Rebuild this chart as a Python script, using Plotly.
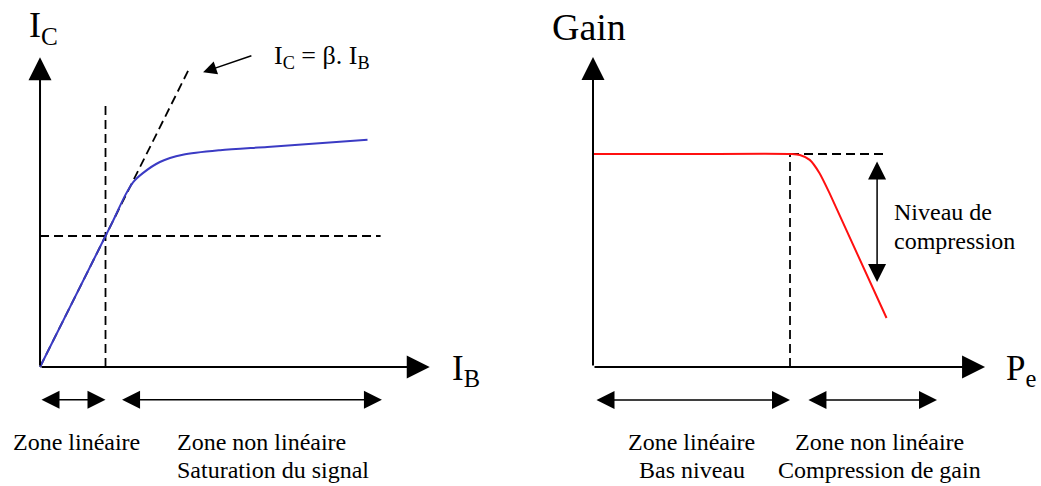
import plotly.graph_objects as go

# ---------------- data (diagram units) ----------------
# Left panel: collector current vs base current (beta = 2)
ib_curve = [0, 1.1, 1.3, 1.42, 1.57, 1.83, 2.18, 2.75, 3.47, 5.0]
ic_curve = [0, 2.2, 2.62, 2.82, 2.96, 3.13, 3.24, 3.31, 3.36, 3.47]
beta = 2.0
ib_beta = [0, 2.26]
ib_limit = 1.0          # end of linear zone
ic_limit = 2.0          # horizontal reference level
ib_dash_end = 5.2
ic_vdash_top = 4.0
ib_axis_max = 5.95
ic_axis_max = 4.73
left_zone_lin = [0, 1.0]
left_zone_nonlin = [1.23, 5.22]
left_zone_y = -0.5

# Right panel: gain vs input power
pe_curve = [0, 5, 10.1, 10.5, 11.0, 11.5, 12.0, 14.9]
g_curve = [20, 20, 20, 19.9, 19.45, 18.2, 16.35, 4.6]
pe_knee = 10
g_lin = 20
pe_hdash_end = 14.82
pe_axis_max = 19.9
g_axis_max = 29.1
comp_arrow_pe = 14.42
comp_arrow_g = [19.44, 7.98]
right_zone_lin = [0.1, 10.0]
right_zone_nonlin = [10.86, 17.46]
right_zone_y = -3.1

FONT = "Liberation Serif"
BLUE = "#3B3BC4"
RED = "#FF1010"
DASH = "9px,5px"

fig = go.Figure()

# ---------------- left traces ----------------
fig.add_trace(go.Scatter(x=ib_beta, y=[beta * v for v in ib_beta], mode="lines",
                         line=dict(color="black", width=1.8, dash=DASH),
                         xaxis="x", yaxis="y", hoverinfo="skip"))
fig.add_trace(go.Scatter(x=[ib_limit, ib_limit], y=[0, ic_vdash_top], mode="lines",
                         line=dict(color="black", width=1.8, dash=DASH),
                         xaxis="x", yaxis="y", hoverinfo="skip"))
fig.add_trace(go.Scatter(x=[0, ib_dash_end], y=[ic_limit, ic_limit], mode="lines",
                         line=dict(color="black", width=1.8, dash=DASH),
                         xaxis="x", yaxis="y", hoverinfo="skip"))
fig.add_trace(go.Scatter(x=ib_curve, y=ic_curve, mode="lines",
                         line=dict(color=BLUE, width=2, shape="spline", smoothing=0.8),
                         xaxis="x", yaxis="y", hoverinfo="skip"))

# ---------------- right traces ----------------
fig.add_trace(go.Scatter(x=[pe_knee, pe_knee], y=[0, g_lin], mode="lines",
                         line=dict(color="black", width=1.8, dash=DASH),
                         xaxis="x2", yaxis="y2", hoverinfo="skip"))
fig.add_trace(go.Scatter(x=[pe_knee, pe_hdash_end], y=[g_lin, g_lin], mode="lines",
                         line=dict(color="black", width=1.8, dash=DASH),
                         xaxis="x2", yaxis="y2", hoverinfo="skip"))
fig.add_trace(go.Scatter(x=pe_curve, y=g_curve, mode="lines",
                         line=dict(color=RED, width=2, shape="spline", smoothing=0.6),
                         xaxis="x2", yaxis="y2", hoverinfo="skip"))

ann = []


def arrow(xr, yr, x, y, ax, ay, width, size, both=False):
    d = dict(xref=xr, yref=yr, axref=xr, ayref=yr, x=x, y=y, ax=ax, ay=ay,
             text="", showarrow=True, arrowhead=2, arrowsize=size, arrowwidth=width,
             arrowcolor="black", standoff=0, startstandoff=0)
    if both:
        d.update(arrowside="end+start", startarrowhead=2, startarrowsize=size)
    ann.append(d)


def label(xr, yr, x, y, text, size, xanchor="left"):
    ann.append(dict(xref=xr, yref=yr, x=x, y=y, text=text, showarrow=False,
                    xanchor=xanchor, yanchor="middle",
                    font=dict(family=FONT, size=size, color="black")))


# axes arrows
arrow("x", "y", 0, ic_axis_max, 0, 0, 2, 2.3)
arrow("x", "y", ib_axis_max, 0, 0, 0, 2, 2.3)
arrow("x2", "y2", 0, g_axis_max, 0, 0, 2, 2.3)
arrow("x2", "y2", pe_axis_max, 0, 0, 0, 2, 2.3)

# zone arrows
arrow("x", "y", left_zone_lin[1], left_zone_y, left_zone_lin[0], left_zone_y, 1.5, 2.4, True)
arrow("x", "y", left_zone_nonlin[1], left_zone_y, left_zone_nonlin[0], left_zone_y, 1.5, 2.4, True)
arrow("x2", "y2", right_zone_lin[1], right_zone_y, right_zone_lin[0], right_zone_y, 1.5, 2.4, True)
arrow("x2", "y2", right_zone_nonlin[1], right_zone_y, right_zone_nonlin[0], right_zone_y, 1.5, 2.4, True)
arrow("x2", "y2", comp_arrow_pe, comp_arrow_g[1], comp_arrow_pe, comp_arrow_g[0], 1.5, 2.4, True)

# beta pointer
arrow("x", "y", 2.49, 4.50, 3.25, 4.76, 1.5, 1.8)

# texts left
label("x", "y", -0.2, 5.18, "I<sub>C</sub>", 36)
label("x", "y", 6.26, -0.05, "I<sub>B</sub>", 35)
label("x", "y", 3.54, 4.74, "I<sub>C</sub> = β. I<sub>B</sub>", 26)
label("x", "y", 0.55, -1.145, "Zone linéaire", 24, "center")
label("x", "y", 2.06, -1.145, "Zone non linéaire", 24)
label("x", "y", 2.06, -1.573, "Saturation du signal", 24)

# texts right
label("x2", "y2", -2.18, 31.9, "Gain", 38)
label("x2", "y2", 20.86, -0.28, "P<sub>e</sub>", 35)
label("x2", "y2", 15.18, 14.55, "Niveau de", 24)
label("x2", "y2", 15.18, 11.83, "compression", 24)
label("x2", "y2", 5.0, -7.04, "Zone linéaire", 24, "center")
label("x2", "y2", 5.0, -9.67, "Bas niveau", 24, "center")
label("x2", "y2", 14.52, -7.04, "Zone non linéaire", 24, "center")
label("x2", "y2", 14.52, -9.67, "Compression de gain", 24, "center")

fig.update_layout(
    width=1041, height=486,
    margin=dict(l=0, r=0, t=0, b=0),
    paper_bgcolor="white", plot_bgcolor="white",
    showlegend=False,
    font=dict(family=FONT),
    xaxis=dict(domain=[0, 0.5], range=[-0.611, 7.336], visible=False, fixedrange=True),
    yaxis=dict(domain=[0, 1], range=[-1.817, 5.603], visible=False, fixedrange=True),
    xaxis2=dict(domain=[0.5, 1], range=[-3.68, 22.74], visible=False, fixedrange=True),
    yaxis2=dict(domain=[0, 1], range=[-11.17, 34.46], visible=False, fixedrange=True,
                anchor="x2"),
    annotations=ann,
)

fig.write_html("out.html", config={"displayModeBar": False},
               post_script="document.body.style.margin='0';document.body.style.overflow='hidden';")
